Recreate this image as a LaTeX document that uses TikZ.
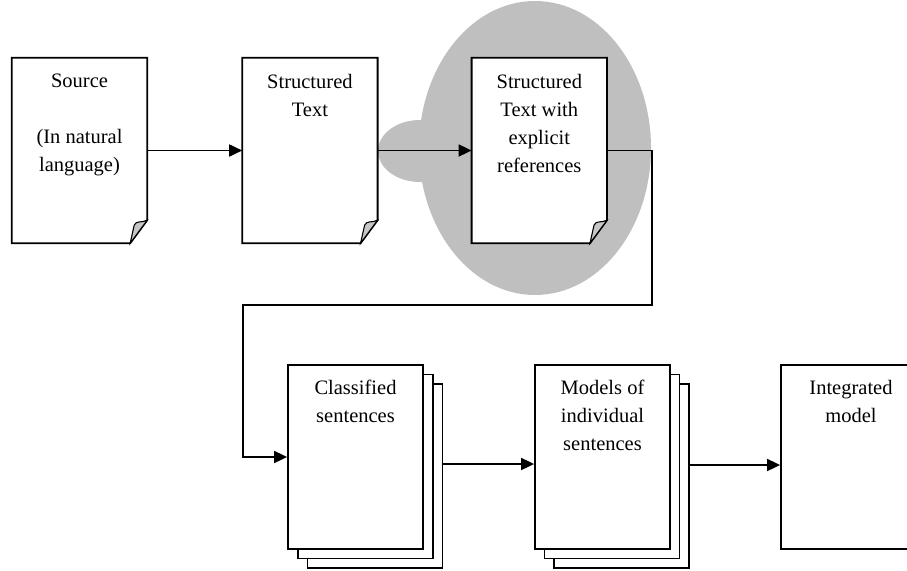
\documentclass[tikz,border=0pt]{standalone}
\usepackage{fontspec}
\setmainfont{Liberation Serif}
\usetikzlibrary{positioning,arrows.meta}
\tikzset{%
  doc/.style={
    draw=none,
    minimum width=135pt,
    minimum height=185pt,
    inner sep=0pt
  },
  sheet/.style={
    draw,
    fill=white,
    line width=1.8pt,
    minimum width=135pt,
    minimum height=184pt,
    inner sep=0pt
  },
  doctext/.style={
    anchor=north,
    align=center,
    inner sep=0pt,
    font=\fontsize{20.5}{28}\selectfont
  },
  flow/.style={
    line width=1.8pt,
    -{Triangle[length=13pt,width=12pt]}
  },
}
% outline of a page with the folded corner
\newcommand\foldpage[1]{%
  \filldraw[line width=1.8pt,fill=white,line join=miter]
    (#1.north west) -- (#1.north east) -- ([yshift=23pt]#1.south east)
    -- ([xshift=-17pt]#1.south east) -- (#1.south west) -- cycle;
  \filldraw[line width=1.1pt,fill=gray!45]
    ([xshift=-17pt]#1.south east) -- ([xshift=-13pt,yshift=18pt]#1.south east)
    .. controls ([xshift=-11pt,yshift=23pt]#1.south east) and ([xshift=-6pt,yshift=20pt]#1.south east)
    .. ([yshift=23pt]#1.south east) -- cycle;
}

\begin{document}
\begin{tikzpicture}[x=1pt, y=-1pt]
\useasboundingbox (0,0) rectangle (907,570);
\clip (0,0) rectangle (907,570);

% highlighted step
\fill[black!25] (535,148) ellipse [x radius=116pt, y radius=147pt];
\fill[black!25] (420,151) ellipse [x radius=42pt, y radius=31pt];

% first row: pages
\node[doc] (src) at (79.5,150.5) {};
\node[doc, right=95pt of src] (stx) {};
\node[doc, right=94pt of stx] (ref) {};
\foldpage{src}
\foldpage{stx}
\foldpage{ref}
\node[doctext] (src-txt) at ([yshift=-16pt]src.north) {Source\\[28pt](In natural\\language)};
\node[doctext] (stx-txt) at ([yshift=-16pt]stx.north) {Structured\\Text};
\node[doctext] (ref-txt) at ([yshift=-16pt]ref.north) {Structured\\Text with\\explicit\\references};

% second row: stacks of pages
\node[sheet] (cls3) at (375,476) {};
\node[sheet] (cls2) at (365.5,466.5) {};
\node[sheet] (cls1) at (355.5,457) {};
\node[sheet] (mod3) at (621.5,476) {};
\node[sheet] (mod2) at (612,466.5) {};
\node[sheet] (mod1) at (602.5,457) {};
\node[sheet, minimum width=140pt] (int) at (851,457) {};
\node[doctext] (cls-txt) at ([yshift=-16pt]cls1.north) {Classified\\sentences};
\node[doctext] (mod-txt) at ([yshift=-16pt]mod1.north) {Models of\\individual\\sentences};
\node[doctext] (int-txt) at ([yshift=-16pt]int.north) {Integrated\\model};

% connectors
\coordinate (turn) at (243,305);
\draw[flow] (src.east) -- (stx.west);
\draw[flow] (stx.east) -- (ref.west);
\draw[flow] (ref.east) -- ++(45,0) |- (turn) |- (cls1.west);
\draw[flow] ([yshift=12pt]cls3.east) -- ([yshift=12pt]cls3.east -| mod1.west);
\draw[flow] ([yshift=11pt]mod3.east) -- ([yshift=11pt]mod3.east -| int.west);
\end{tikzpicture}
\end{document}
